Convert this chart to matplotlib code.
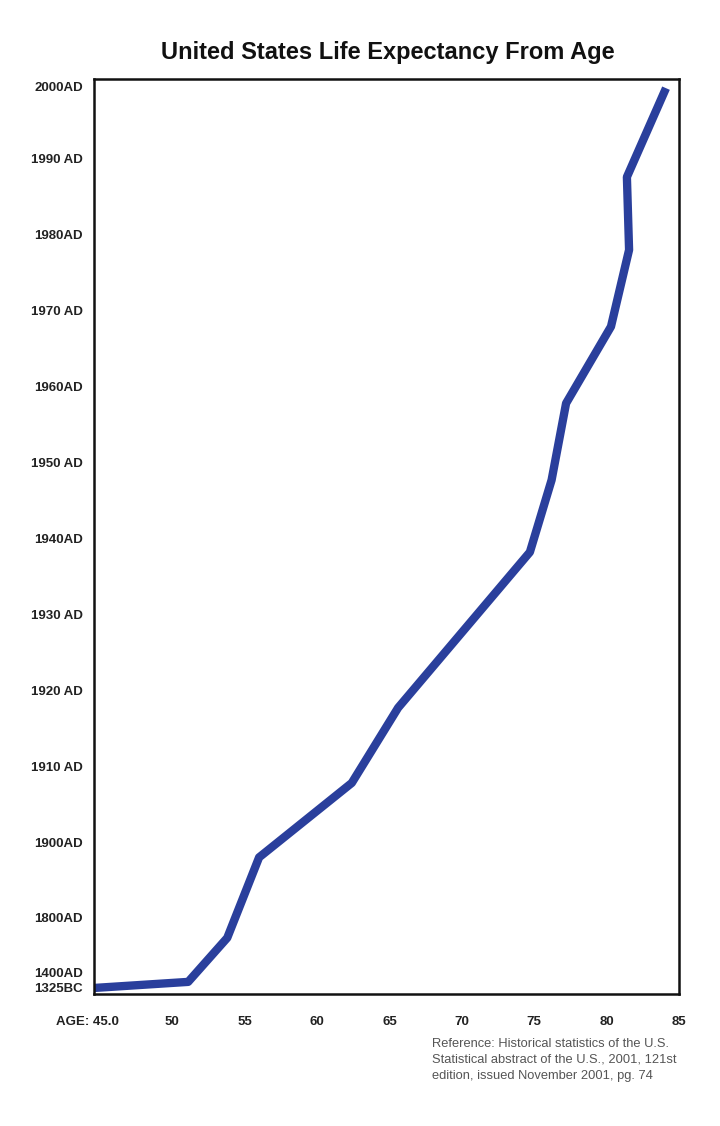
import matplotlib
matplotlib.use("Agg")
import matplotlib.pyplot as plt
from matplotlib.transforms import ScaledTranslation

plt.rcParams['font.family'] = ['Liberation Sans', 'DejaVu Sans']

# life expectancy (age) against period; y is a decade index (1900AD = 0)
age = [44.6, 51.1, 53.8, 56.0, 62.4, 65.6, 74.7, 76.2, 77.2, 80.3, 81.55, 81.4, 84.1]
period = [-1.92, -1.84, -1.26, -0.20, 0.78, 1.77, 3.82, 4.77, 5.78, 6.79, 7.80, 8.76, 9.93]

ytick_pos = [-1.92, -1.71, -0.99, 0, 1, 2, 3, 4, 5, 6, 7, 8, 9, 9.95]
ytick_labels = ['1325BC', '1400AD', '1800AD', '1900AD', '1910 AD', '1920 AD', '1930 AD',
                '1940AD', '1950 AD', '1960AD', '1970 AD', '1980AD', '1990 AD', '2000AD']
xtick_pos = [45, 50, 55, 60, 65, 70, 75, 80, 85]
xtick_labels = ['AGE: 45.0', '50', '55', '60', '65', '70', '75', '80', '85']

fig = plt.figure(figsize=(7.2, 11.26), dpi=100)
ax = fig.add_axes([0.1306, 0.1172, 0.8125, 0.8126])

ax.plot(age, period, color='#2a3f9c', lw=6, solid_joinstyle='round', solid_capstyle='butt')

ax.set_xlim(44.6, 85)
ax.set_ylim(-2.0, 10.05)

ax.set_yticks(ytick_pos)
ax.set_yticklabels(ytick_labels, fontsize=9.5, fontweight='bold', color='#222222')
ax.set_xticks(xtick_pos)
ax.set_xticklabels(xtick_labels, fontsize=9.5, fontweight='bold', color='#222222')
ax.tick_params(axis='both', length=0)
ax.tick_params(axis='y', pad=8)
ax.tick_params(axis='x', pad=15.5)

lab0 = ax.get_xticklabels()[0]
lab0.set_transform(lab0.get_transform() + ScaledTranslation(-0.12, 0, fig.dpi_scale_trans))

for s in ax.spines.values():
    s.set_linewidth(1.8)
    s.set_color('#111111')

fig.text(0.539, 0.953, 'United States Life Expectancy From Age', ha='center', va='center',
         fontsize=17, fontweight='bold', color='#111111')

fig.text(0.6, 0.0785,
         'Reference: Historical statistics of the U.S.\n'
         'Statistical abstract of the U.S., 2001, 121st\n'
         'edition, issued November 2001, pg. 74',
         ha='left', va='top', fontsize=9.3, color='#555555', linespacing=1.45)

fig.savefig('out.png', dpi=100)
